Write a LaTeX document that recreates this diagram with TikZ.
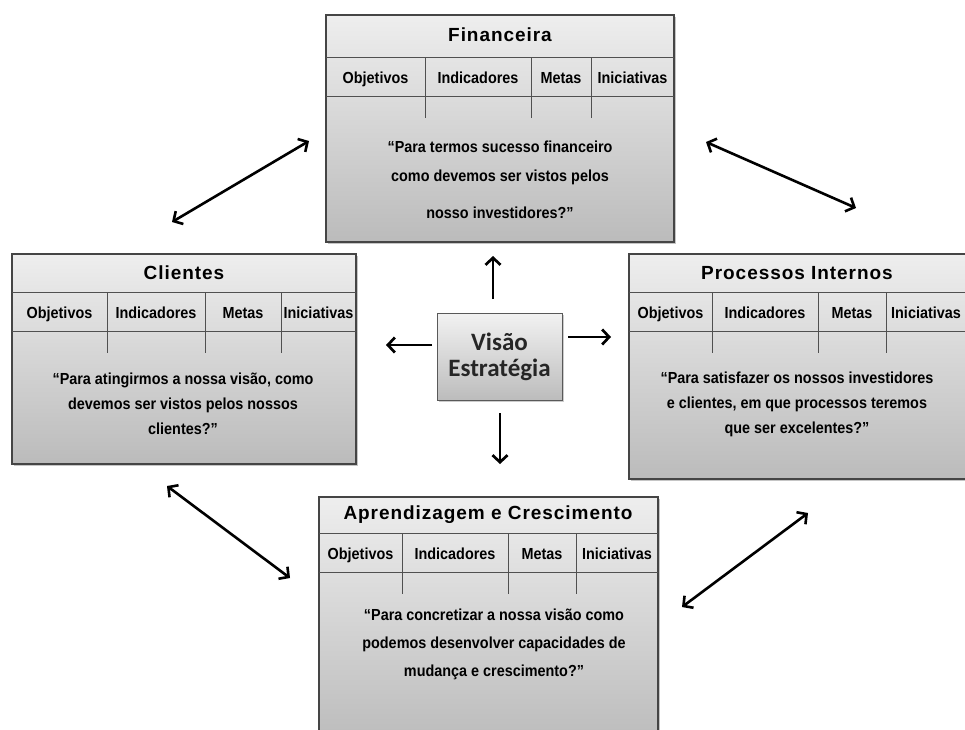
\documentclass[tikz,border=0pt]{standalone}
\usepackage{fontspec}
\setmainfont{Liberation Sans}
\newfontfamily\titlefont[LetterSpace=5]{Liberation Sans}
\newfontfamily\narrowfont[FakeStretch=0.9]{Liberation Sans}
\newfontfamily\visfont{Carlito}
\usetikzlibrary{arrows.meta,shadows,fit}
\definecolor{edgegray}{HTML}{454545}
\definecolor{linegray}{HTML}{505050}
\definecolor{topgray}{HTML}{EEEEEE}
\definecolor{botgray}{HTML}{BBBBBB}
\definecolor{vtop}{HTML}{F2F2F2}
\definecolor{vbot}{HTML}{BCBCBC}
\definecolor{vtext}{HTML}{262626}
\tikzset{
 panelbox/.style={draw=edgegray, line width=1.4pt, top color=topgray, bottom color=botgray, inner sep=0pt, outer sep=0pt, drop shadow={shadow xshift=2pt, shadow yshift=-2pt, opacity=0.45}},
 gridline/.style={draw=linegray, line width=0.9pt},
 titletext/.style={font=\titlefont\bfseries\fontsize{19}{22}\selectfont, text=black, inner sep=0pt},
 headtext/.style={font=\narrowfont\bfseries\fontsize{16}{18}\selectfont, text=black, inner sep=0pt, anchor=base},
 bodytext/.style={font=\narrowfont\bfseries\fontsize{16}{25}\selectfont, align=center, text=black, inner sep=0pt},
 visbox/.style={draw=gray!70!black, line width=1pt, top color=vtop, bottom color=vbot, inner sep=0pt, drop shadow={shadow xshift=2pt, shadow yshift=-2pt, opacity=0.4}, font=\visfont\bfseries\fontsize{25}{26}\selectfont, text=vtext, align=center},
 conn/.style={line width=2.7pt, -{Straight Barb[length=7pt,width=15pt]}},
 dconn/.style={line width=2.6pt, {Straight Barb[length=7pt,width=15pt]}-{Straight Barb[length=7pt,width=15pt]}},
}
% #1 name, #2 left, #3 top, #4 right, #5 bottom, #6 title line y, #7 #8 #9 divider x
\newcommand\bscpanel[9]{%
 \node[panelbox, fit={(#2,#3) (#4,#5)}] (#1) {};
 \draw[gridline] (#2,#6) -- (#4,#6);
 \draw[gridline] (#2,#6+39) -- (#4,#6+39);
 \foreach \xx in {#7,#8,#9} {\draw[gridline] (\xx,#6) -- (\xx,#6+61);}
 \node[headtext] (#1-h1) at ({(#2+#7)/2},#6+26) {Objetivos};
 \node[headtext] (#1-h2) at ({(#7+#8)/2},#6+26) {Indicadores};
 \node[headtext] (#1-h3) at ({(#8+#9)/2},#6+26) {Metas};
 \node[headtext] (#1-h4) at ({(#9+#4)/2},#6+26) {Iniciativas};
}
\begin{document}
\begin{tikzpicture}[x=1pt,y=-1pt]
\useasboundingbox (0,0) rectangle (965,729);
\clip (0,0) rectangle (965,729);
\fill[white] (0,0) rectangle (965,729);

% Financeira
\bscpanel{fin}{326}{15}{674}{242}{57}{425}{531}{591}
\node[titletext] (fin-t) at (500,35) {Financeira};
\node[bodytext,font=\narrowfont\bfseries\fontsize{16}{29}\selectfont] (fin-b) at (500,180) {“Para termos sucesso financeiro\\como devemos ser vistos pelos\\[8pt]nosso investidores?”};

% Clientes
\bscpanel{cli}{12}{254}{356}{464}{292}{107}{205}{281}
\node[titletext] (cli-t) at (184,273) {Clientes};
\node[bodytext] (cli-b) at (183,404) {“Para atingirmos a nossa visão, como\\devemos ser vistos pelos nossos\\clientes?”};

% Processos Internos
\bscpanel{pro}{629}{254}{966}{479}{292}{712}{818}{886}
\node[titletext] (pro-t) at (797,273) {Processos Internos};
\node[bodytext] (pro-b) at (797,404) {“Para satisfazer os nossos investidores\\e clientes, em que processos teremos\\que ser excelentes?”};

% Aprendizagem e Crescimento
\bscpanel{apr}{319}{497}{658}{745}{533}{402}{508}{576}
\node[titletext] (apr-t) at (488,515) {Aprendizagem e Crescimento};
\node[bodytext,font=\narrowfont\bfseries\fontsize{16}{28}\selectfont] (apr-b) at (494,644) {“Para concretizar a nossa visão como\\podemos desenvolver capacidades de\\mudança e crescimento?”};

% Centre
\node[visbox, minimum width=125pt, minimum height=87pt] (vis) at (499.5,356.5) {Visão\\Estratégia};

% arrow end points
\coordinate (uS) at (493,299); \coordinate (uE) at (493,256);
\coordinate (lS) at (432,345); \coordinate (lE) at (386,345);
\coordinate (rS) at (568,337); \coordinate (rE) at (611,337);
\coordinate (dS) at (500,413); \coordinate (dE) at (500,464);
\draw[conn] (uS) -- (uE);
\draw[conn] (lS) -- (lE);
\draw[conn] (rS) -- (rE);
\draw[conn] (dS) -- (dE);

\coordinate (tl1) at (309,141); \coordinate (tl2) at (172,222);
\coordinate (tr1) at (706,142); \coordinate (tr2) at (856,208);
\coordinate (bl1) at (167,486); \coordinate (bl2) at (290,578);
\coordinate (br1) at (682,607); \coordinate (br2) at (808,513);
\draw[dconn] (tl1) -- (tl2);
\draw[dconn] (tr1) -- (tr2);
\draw[dconn] (bl1) -- (bl2);
\draw[dconn] (br1) -- (br2);
\end{tikzpicture}
\end{document}
